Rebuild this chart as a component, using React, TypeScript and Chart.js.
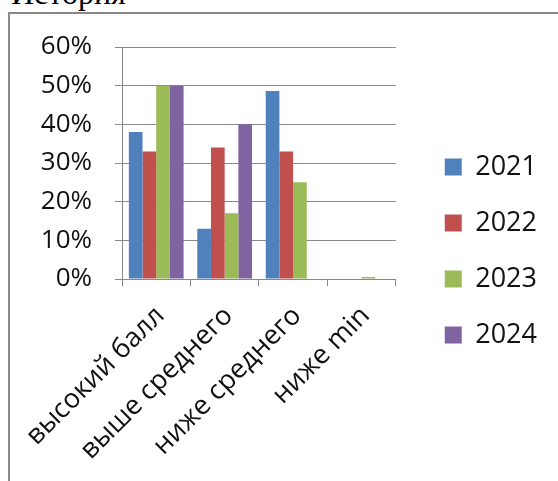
import React, { useEffect, useRef } from "react";
import { Chart, registerables } from "chart.js";

Chart.register(...registerables);

const categories = ["высокий балл", "выше среднего", "ниже среднего", "ниже min"];
const seriesNames = ["2021", "2022", "2023", "2024"];
const values2021 = [38, 13, 48.6, 0];
const values2022 = [33, 34, 33, 0];
const values2023 = [50, 17, 25, 0.5];
const values2024 = [50, 40, 0, 0];
const colors = ["#4F81BD", "#C0504D", "#9BBB59", "#8064A2"];
const yTicks = [0, 10, 20, 30, 40, 50, 60];

const FONT = "'Open Sans', 'Noto Sans', sans-serif";

export default function App() {
  const ref = useRef<HTMLCanvasElement | null>(null);

  useEffect(() => {
    if (!ref.current) return;
    const series = [values2021, values2022, values2023, values2024];
    const chart = new Chart(ref.current, {
      type: "bar",
      data: {
        labels: categories,
        datasets: seriesNames.map((name, i) => ({
          label: name,
          data: series[i],
          backgroundColor: colors[i],
          borderWidth: 0,
          categoryPercentage: 0.8,
          barPercentage: 1,
        })),
      },
      options: {
        responsive: false,
        animation: false,
        devicePixelRatio: 1,
        layout: { padding: { top: 7, bottom: 0, left: 0, right: 0 } },
        plugins: {
          legend: {
            position: "right",
            align: "center",
            maxWidth: 300,
            labels: {
              boxWidth: 17,
              boxHeight: 17,
              padding: 29,
              color: "#111",
              font: { family: FONT, size: 27 },
            },
          },
          tooltip: { enabled: false },
          title: { display: false },
        },
        scales: {
          x: {
            grid: {
              offset: true,
              drawOnChartArea: false,
              drawTicks: true,
              tickLength: 7,
              color: "#888",
            },
            border: { color: "#888" },
            ticks: {
              minRotation: 45,
              maxRotation: 45,
              padding: 14,
              labelOffset: 4,
              color: "#111",
              font: { family: FONT, size: 27 },
              autoSkip: false,
            },
            afterFit: (s: any) => {
              s.height = 202;
              s.paddingLeft = 0;
              s.paddingRight = 0;
            },
          },
          y: {
            min: 0,
            max: 60,
            afterBuildTicks: (s: any) => {
              s.ticks = yTicks.map((v) => ({ value: v }));
            },
            grid: { color: "#888", tickLength: 7 },
            border: { color: "#888" },
            ticks: {
              padding: 23,
              color: "#111",
              font: { family: FONT, size: 26 },
              callback: (v: any) => v + "%",
            },
            afterFit: (s: any) => {
              s.width = 112;
              s.paddingTop = 33;
              s.paddingBottom = 0;
            },
          },
          spacer: {
            type: "linear",
            position: "right",
            display: true,
            grid: { drawOnChartArea: false, drawTicks: false },
            border: { display: false },
            ticks: { display: false },
            afterFit: (s: any) => {
              s.width = 20;
              s.paddingTop = 0;
              s.paddingBottom = 0;
            },
          },
        },
      } as any,
    });
    return () => chart.destroy();
  }, []);

  return (
    <div
      style={{
        position: "fixed",
        left: 0,
        top: 0,
        width: 558,
        height: 481,
        overflow: "hidden",
        background: "#fff",
      }}
    >
      <div
        style={{
          position: "absolute",
          left: 11,
          top: -23,
          fontFamily: "'Liberation Serif', 'Times New Roman', serif",
          fontSize: 32,
          lineHeight: "32px",
          color: "#000",
          whiteSpace: "nowrap",
        }}
      >
        История
      </div>
      <div
        style={{
          position: "absolute",
          left: 8,
          top: 12,
          width: 620,
          height: 520,
          border: "2px solid #888",
          boxSizing: "border-box",
        }}
      />
      <canvas
        ref={ref}
        width={537}
        height={467}
        style={{ position: "absolute", left: 10, top: 14, width: 537, height: 467 }}
      />
    </div>
  );
}
